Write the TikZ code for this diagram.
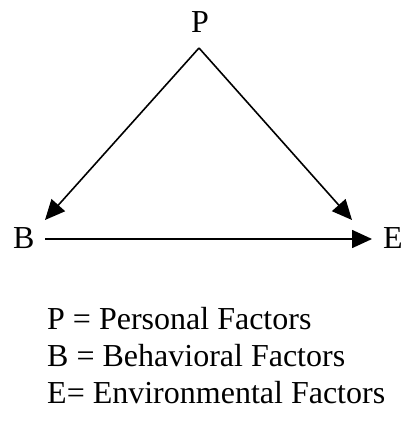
\documentclass[tikz,border=0pt]{standalone}
\usepackage{fontspec}
\setmainfont{Liberation Serif}
\usetikzlibrary{arrows.meta}
\begin{document}
\begin{tikzpicture}[x=1pt,y=-1pt,
  lbl/.style={inner sep=0pt,font=\fontsize{32}{32}\selectfont},
  conn/.style={line width=1.6pt,-{Triangle[length=20pt,width=18pt]}}]
\useasboundingbox (0,0) rectangle (403,443);
\node[lbl,anchor=base] (P) at (200,33) {P};
\node[lbl,anchor=base west] (B) at (13,248) {B};
\node[lbl,anchor=base west] (E) at (383,248) {E};
\coordinate (apex) at (199,48);
\coordinate (ltip) at (45,220);
\coordinate (rtip) at (352,220);
\coordinate (hstart) at (45,239);
\coordinate (htip) at (372,239);
\draw[conn] (apex) -- (ltip);
\draw[conn] (apex) -- (rtip);
\draw[conn] (hstart) -- (htip);
\node[lbl,anchor=base west] (lp) at (47,329) {P = Personal Factors};
\node[lbl,anchor=base west] (lb) at (47,366) {B = Behavioral Factors};
\node[lbl,anchor=base west] (le) at (47,403) {E= Environmental Factors};
\end{tikzpicture}
\end{document}
